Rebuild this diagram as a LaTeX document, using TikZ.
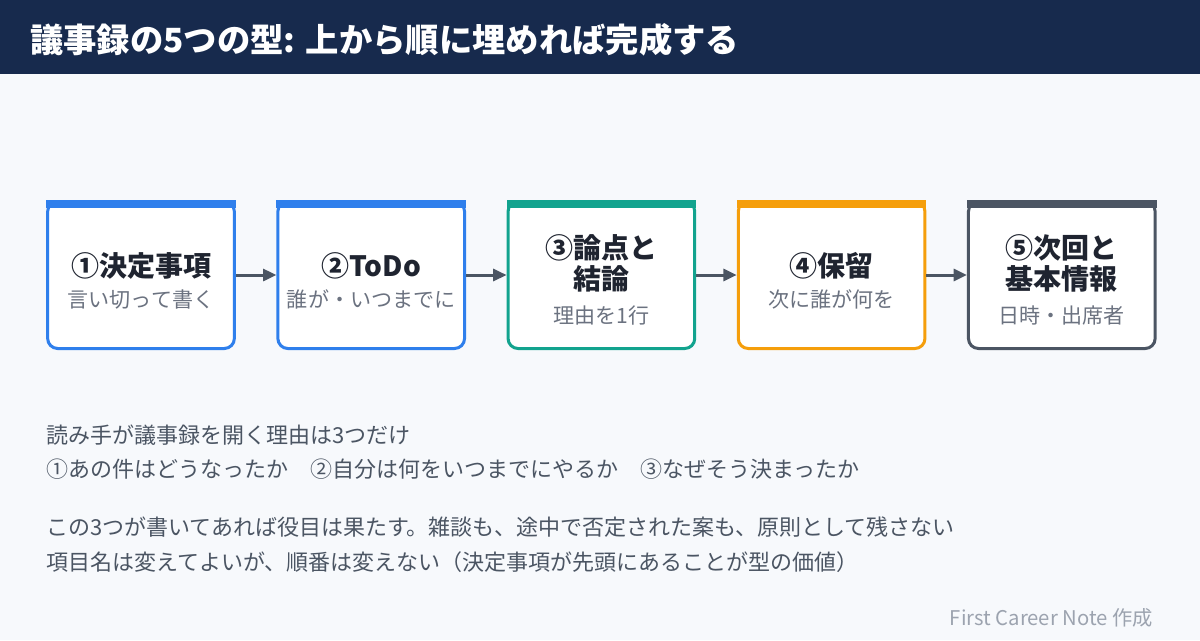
\documentclass[tikz,border=0pt]{standalone}
\usepackage{fontspec}
\setmainfont{Noto Sans CJK JP}
\usepackage{xcolor}
\usepackage{tikz}
\usetikzlibrary{positioning, arrows.meta}

\definecolor{subgray}{HTML}{6B7280}
\newcommand{\cardsub}[1]{{\fontsize{15.8pt}{18pt}\selectfont\mdseries\color{subgray}#1}}

\begin{document}
\begin{tikzpicture}[
    x=0.75pt, y=-0.75pt,
    >={Triangle[length=10pt, width=9pt]},
    node distance=30.4pt,
    card/.style={rectangle, rounded corners=7.5pt, draw=#1, fill=white,
        line width=2.25pt, minimum width=140pt, minimum height=110.25pt},
    cardtext/.style={align=center, inner sep=0pt, text=titleink,
        font=\fontsize{21pt}{23.5pt}\selectfont\bfseries},
    note/.style={anchor=west, inner sep=0pt, text=noteink,
        font=\fontsize{16.5pt}{20pt}\selectfont},
]

% ── Colors ──
\definecolor{pagebg}{HTML}{F7F9FC}
\definecolor{headbg}{HTML}{172A4D}
\definecolor{decborder}{HTML}{2F7FEC}
\definecolor{todoborder}{HTML}{2F7FEC}
\definecolor{argborder}{HTML}{12A38E}
\definecolor{holdborder}{HTML}{F59E0B}
\definecolor{nextborder}{HTML}{4B5563}
\definecolor{arrowgray}{HTML}{4B5563}
\definecolor{titleink}{HTML}{1F2430}
\definecolor{noteink}{HTML}{4B5563}
\definecolor{creditink}{HTML}{9CA3AF}

% ══════════════════════════════════════════════
% Page and header band
% ══════════════════════════════════════════════
\fill[pagebg] (0,0) rectangle (1200,640);
\useasboundingbox (0,0) rectangle (1200,640);
\fill[headbg] (0,0) rectangle (1200,74);
\node[anchor=west, inner sep=0pt, text=white,
    font=\fontsize{25pt}{28pt}\selectfont\bfseries]
    (headline) at (30,40) {議事録の5つの型: 上から順に埋めれば完成する};

% ══════════════════════════════════════════════
% The five cards
% ══════════════════════════════════════════════
\node[card=decborder] (decided) at (141,275) {};
\node[card=todoborder, right=of decided] (todo) {};
\node[card=argborder, right=of todo] (issues) {};
\node[card=holdborder, right=of issues] (pending) {};
\node[card=nextborder, right=of pending] (nextmtg) {};

% top bars
\fill[decborder] (decided.north west) rectangle ([yshift=-6pt]decided.north east);
\fill[todoborder] (todo.north west) rectangle ([yshift=-6pt]todo.north east);
\fill[argborder] (issues.north west) rectangle ([yshift=-6pt]issues.north east);
\fill[holdborder] (pending.north west) rectangle ([yshift=-6pt]pending.north east);
\fill[nextborder] (nextmtg.north west) rectangle ([yshift=-6pt]nextmtg.north east);

% card texts
\node[cardtext] at ([yshift=-4.5pt]decided.center) (decidedtxt)
    {①決定事項\\[0pt]\cardsub{言い切って書く}};
\node[cardtext] at ([yshift=-4.5pt]todo.center) (todotxt)
    {②ToDo\\[0pt]\cardsub{誰が・いつまでに}};
\node[cardtext] at ([yshift=-3.5pt]issues.center) (issuestxt)
    {③論点と\\結論\\[1.5pt]\cardsub{理由を1行}};
\node[cardtext] at ([yshift=-4.5pt]pending.center) (pendingtxt)
    {④保留\\[0pt]\cardsub{次に誰が何を}};
\node[cardtext] at ([yshift=-3.5pt]nextmtg.center) (nextmtgtxt)
    {⑤次回と\\基本情報\\[1.5pt]\cardsub{日時・出席者}};

% ══════════════════════════════════════════════
% Arrows between cards
% ══════════════════════════════════════════════
\draw[->, line width=2.25pt, arrowgray] (decided) -- (todo);
\draw[->, line width=2.25pt, arrowgray] (todo) -- (issues);
\draw[->, line width=2.25pt, arrowgray] (issues) -- (pending);
\draw[->, line width=2.25pt, arrowgray] (pending) -- (nextmtg);

% ══════════════════════════════════════════════
% Notes below
% ══════════════════════════════════════════════
\node[note] (why) at (46,435) {読み手が議事録を開く理由は3つだけ};
\node[note] (reasons) at (46,469)
    {①あの件はどうなったか　②自分は何をいつまでにやるか　③なぜそう決まったか};
\node[note] (enough) at (46,527)
    {この3つが書いてあれば役目は果たす。雑談も、途中で否定された案も、原則として残さない};
\node[note] (order) at (46,562)
    {項目名は変えてよいが、順番は変えない（決定事項が先頭にあることが型の価値）};

\node[anchor=east, inner sep=0pt, text=creditink,
    font=\fontsize{15.2pt}{17pt}\selectfont]
    (credit) at (1153,618) {First Career Note 作成};

\end{tikzpicture}
\end{document}
